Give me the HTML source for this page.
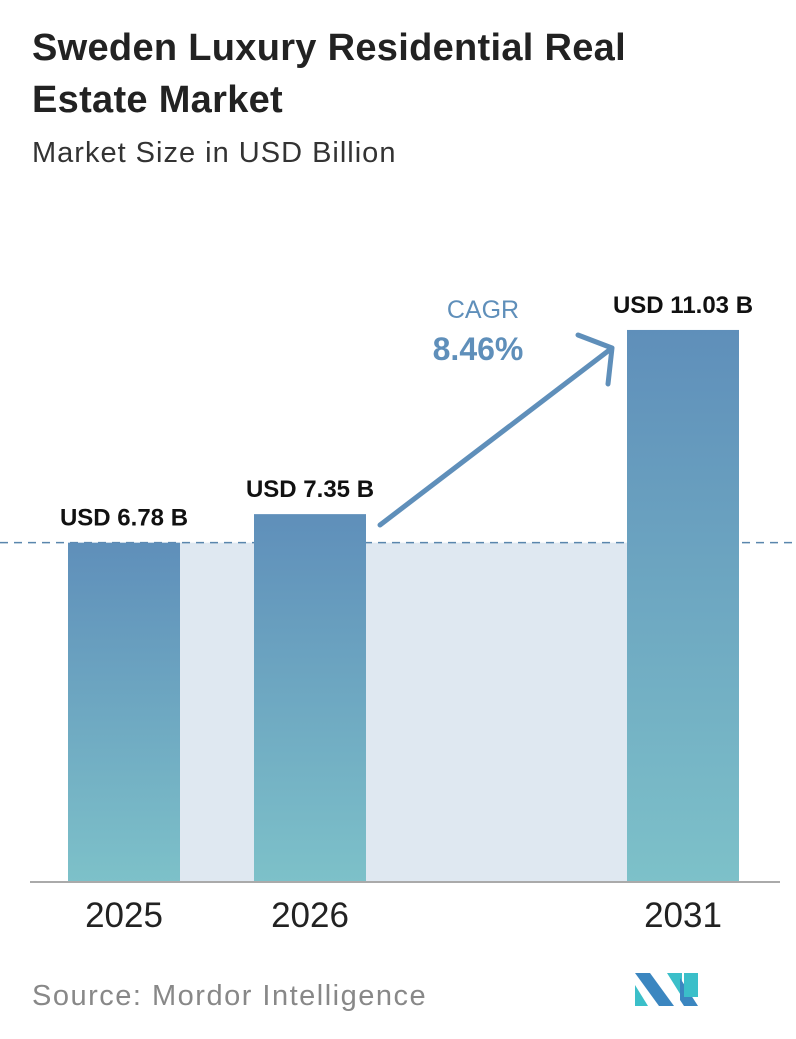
<!DOCTYPE html>
<html><head><meta charset="utf-8"><style>
body{margin:0;background:#fff;width:796px;height:1034px;overflow:hidden;font-family:"Liberation Sans",sans-serif}
</style></head><body>
<svg width="796" height="1034" viewBox="0 0 796 1034">
<defs><linearGradient id="bg" x1="0" y1="0" x2="0" y2="1"><stop offset="0" stop-color="#5f8fba"/><stop offset="1" stop-color="#7dc1c9"/></linearGradient></defs>
<text x="32" y="60" font-size="38" font-weight="bold" fill="#222" letter-spacing="0.3">Sweden Luxury Residential Real</text>
<text x="32" y="112" font-size="38" font-weight="bold" fill="#222" letter-spacing="0.3">Estate Market</text>
<text x="32" y="162" font-size="29" fill="#333" letter-spacing="1">Market Size in USD Billion</text>
<g id="plot"></g>
<text x="32" y="1005" font-size="29" fill="#888" letter-spacing="1.5">Source:  Mordor Intelligence</text>
<g>
<polygon points="635,973 650,973 674,1006 659,1006" fill="#3b86c0"/>
<polygon points="635,985 648,1006 635,1006" fill="#3bbfc9"/>
<polygon points="667,973 682,973 682,997" fill="#3bbfc9"/>
<polygon points="680,978 698,1006 684,1006 680,1000" fill="#3b86c0"/>
<rect x="684" y="973" width="14" height="24" fill="#3bbfc9"/>
</g>
</svg>
<script>
const categories=["2025","2026","2031"];
const values=[6.78,7.35,11.03];
const labels=["USD 6.78 B","USD 7.35 B","USD 11.03 B"];
const cagr="8.46%";
const ns="http://www.w3.org/2000/svg";
const g=document.getElementById('plot');
const base=882, ppu=50.05;
const xs=[68,254,627], bw=112;
function y(v){return base-v*ppu;}
function el(t,a,p){const e=document.createElementNS(ns,t);for(const k in a)e.setAttribute(k,a[k]);(p||g).appendChild(e);return e;}
const refY=y(values[0]);
const f=el('rect',{x:xs[0]+bw,y:refY,width:xs[2]-xs[0]-bw,height:base-refY,fill:'#dfe8f1'});


const d=el('line',{x1:0,x2:796,y1:refY,y2:refY,stroke:'#5a86ad','stroke-width':1.5,'stroke-dasharray':'8,6'});


values.forEach((v,i)=>{
 const r=el('rect',{x:xs[i],y:y(v),width:bw,height:base-y(v),fill:'url(#bg)'});
 
 
 const t=el('text',{x:xs[i]+bw/2,y:y(v)-17,'text-anchor':'middle','font-size':24,'font-weight':'bold',fill:'#111'});
 t.textContent=labels[i];
 
 
 const c=el('text',{x:xs[i]+bw/2,y:927,'text-anchor':'middle','font-size':35,fill:'#222'});
 c.textContent=categories[i];
 
 
});
const ax=el('line',{x1:30,x2:780,y1:base,y2:base,stroke:'#aaa','stroke-width':2});


const ar=el('path',{d:'M380,525 L612,348 M578,335 L612,348 L608,384',stroke:'#5f8fba','stroke-width':5,fill:'none','stroke-linecap':'round','stroke-linejoin':'round'});


const ct=el('text',{x:483,y:318,'text-anchor':'middle','font-size':25,fill:'#5f8fba'});
ct.textContent='CAGR';


const cv=el('text',{x:478,y:360,'text-anchor':'middle','font-size':32,'font-weight':'bold',fill:'#5f8fba'});
cv.textContent=cagr;


</script>
</body></html>
